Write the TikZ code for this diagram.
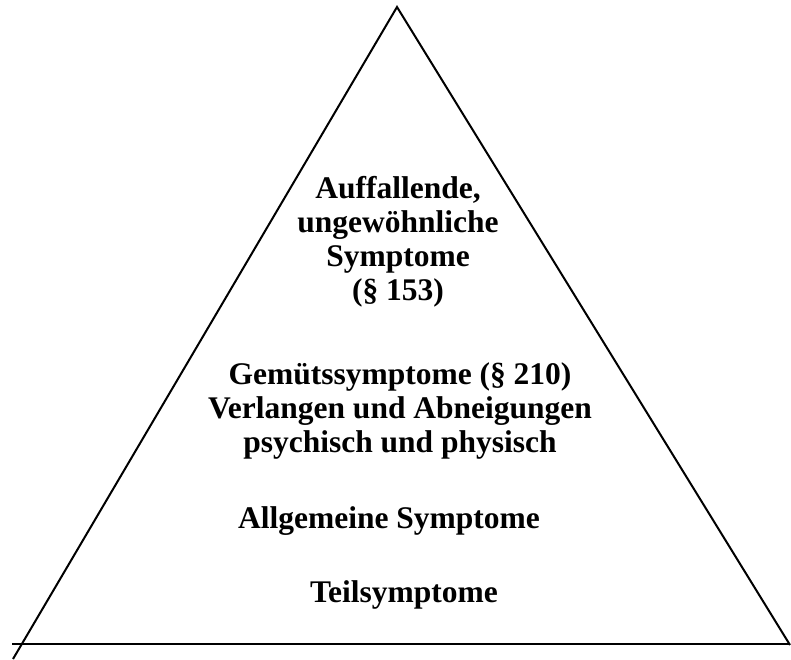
\documentclass[tikz,border=0pt]{standalone}
\usepackage{fontspec}
\setmainfont{Liberation Serif}
\usetikzlibrary{positioning}

\begin{document}
\begin{tikzpicture}[x=1pt,y=-1pt,
level/.style={font=\fontsize{31.5}{34}\selectfont\bfseries,align=center,inner sep=0pt,anchor=base},
edge/.style={line width=2pt,line cap=butt}]
\useasboundingbox (0,0) rectangle (791,659);

\coordinate (apex) at (397,7);
\coordinate (leftend) at (13,659);
\coordinate (rightend) at (790,645);
\coordinate (basel) at (12,644);
\coordinate (baser) at (790,644);

\draw[edge] (leftend) -- (apex) -- (rightend);
\draw[edge] (basel) -- (baser);

% last line sits on the anchor
\node[level] (rare) at (398,300) {Auffallende,\\ungewöhnliche\\Symptome\\(§ 153)};

\node[level] (mind) at (400,452) {Gemütssymptome (§ 210)\\Verlangen und Abneigungen\\psychisch und physisch};

\node[level] (general) at (389,528) {Allgemeine Symptome};

\node[level] (local) at (404,602) {Teilsymptome};

\end{tikzpicture}
\end{document}
